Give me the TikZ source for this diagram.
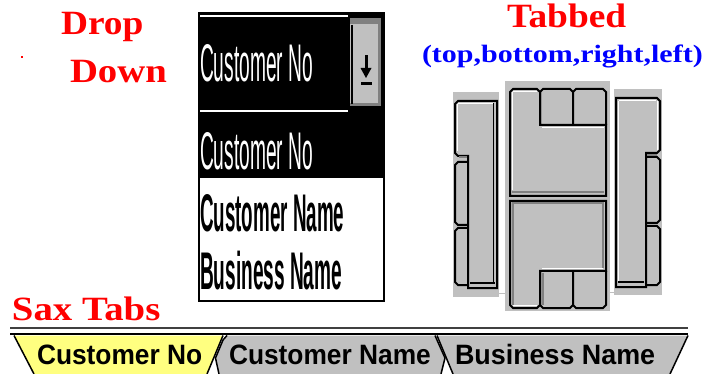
\documentclass[tikz,border=0pt]{standalone}
\usepackage{fontspec}
\setmainfont{Liberation Serif}
\newfontfamily\uisans{Liberation Sans}
\definecolor{winred}{RGB}{255,0,0}
\definecolor{winblue}{RGB}{0,0,255}
\definecolor{wingray}{RGB}{192,192,192}
\definecolor{windark}{RGB}{128,128,128}
\definecolor{tabyellow}{RGB}{255,255,128}
\definecolor{linedark}{RGB}{64,64,64}
\begin{document}
\begin{tikzpicture}[x=1pt,y=-1pt,
  txt/.style={inner sep=0pt, outer sep=0pt, anchor=base west},
  ttl/.style={txt, text=winred, font=\fontsize{34}{34}\selectfont\bfseries},
  subttl/.style={txt, text=winblue, font=\fontsize{25}{25}\selectfont\bfseries},
  combotxt/.style={txt, font=\uisans\fontsize{53}{53}\selectfont},
  combobold/.style={txt, font=\uisans\bfseries\fontsize{53}{53}\selectfont},
  saxtxt/.style={txt, font=\uisans\bfseries\fontsize{28}{28}\selectfont},
  hilite/.style={draw=white, line width=1.5pt},
  shadowln/.style={draw=windark, line width=2pt},
  panelbg/.style={fill=wingray},
  tabfill/.style={fill=wingray, draw=black, line width=2pt, line join=miter},
]
\useasboundingbox (0,0) rectangle (707,374);
\fill[white] (0,0) rectangle (707,374);

% ---------- titles ----------
\node[ttl] (tdrop) at (61,35) {\scalebox{1.1}[1]{Drop}};
\node[ttl] (tdown) at (70,83) {\scalebox{1.14}[1]{Down}};
\fill[winred] (21,56) rectangle (23,58);
\node[ttl] (ttabbed) at (507,28) {\scalebox{1.1}[1]{Tabbed}};
\node[subttl] (tsides) at (422,63) {\scalebox{1.2}[1]{(top,bottom,right,left)}};
\node[ttl] (tsax) at (12,320) {\scalebox{1.14}[1]{Sax Tabs}};

% ---------- drop down ----------
\fill[black] (198,12) rectangle (385,178);
\fill[white] (198,178) rectangle (385,302);
\draw[black, line width=2pt] (199,13) rectangle (384,301);
\draw[hilite] (200,16) -- (348,16);
\draw[hilite] (200,111) -- (348,111);
\fill[wingray] (350,18) rectangle (381,106);
\fill[windark] (350,18) rectangle (381,24);
\fill[windark] (378,18) rectangle (381,106);
\fill[windark] (350,103) rectangle (381,106);
\draw[black, line width=2pt] (351.5,25) -- (351.5,104);
% arrow glyph
\fill[black] (364.5,55) rectangle (367.5,69);
\fill[black] (360.5,68) -- (371.5,68) -- (366,78) -- cycle;
\fill[black] (360.5,82) rectangle (371.5,85);
\node[combotxt, text=white] (cbsel) at (200,82) {\scalebox{0.362}[1]{Customer No}};
\node[combotxt, text=white] (lst1) at (200,170) {\scalebox{0.362}[1]{Customer No}};
\node[combobold, text=black] (lst2) at (200,232) {\scalebox{0.355}[1]{Customer Name}};
\node[combobold, text=black] (lst3) at (200,290) {\scalebox{0.36}[1]{Business Name}};

% ---------- tabbed: left panel ----------
\fill[panelbg] (453,92) rectangle (499,297);
\draw[tabfill] (468,162) -- (458,162) -- (455,165) -- (455,222) -- (458,225) -- (468,225);
\draw[tabfill] (468,228) -- (458,228) -- (455,231) -- (455,282) -- (458,285) -- (468,285);
\draw[tabfill] (455,104) -- (458,101) -- (497,101) -- (497,288) -- (468,288) -- (468,156) -- (458,156) -- (455,153) -- cycle;
\draw[hilite] (458,103.5) -- (494,103.5);
\draw[hilite] (457.5,104) -- (457.5,151);
\draw[shadowln] (459,157.5) -- (467,157.5);
\draw[black, line width=1.5pt] (470,283) -- (495,283);
\draw[black, line width=1.5pt] (493.5,103) -- (493.5,283);
\draw[wingray, line width=1pt] (499,293) -- (505,293);

% ---------- tabbed: centre panel ----------
\fill[panelbg] (505,81) rectangle (610,311);
% top control
\draw[tabfill] (540,125) -- (540,92) -- (543,89) -- (570,89) -- (573,92) -- (573,125);
\draw[tabfill] (573,125) -- (573,92) -- (576,89) -- (603,89) -- (606,92) -- (606,125);
\draw[tabfill] (510,92) -- (513,89) -- (537,89) -- (540,92) -- (540,125) -- (606,125) -- (606,196) -- (510,196) -- cycle;
\draw[hilite] (513,91.5) -- (537,91.5);
\draw[hilite] (512.5,92) -- (512.5,190);
\draw[hilite] (542,127.5) -- (604,127.5);
\draw[shadowln] (512,192.5) -- (604,192.5);
% bottom control
\draw[tabfill] (540,271) -- (540,305) -- (543,308) -- (570,308) -- (573,305) -- (573,271);
\draw[tabfill] (573,271) -- (573,305) -- (576,308) -- (603,308) -- (606,305) -- (606,271);
\draw[tabfill] (510,201) -- (606,201) -- (606,271) -- (540,271) -- (540,305) -- (537,308) -- (513,308) -- (510,305) -- cycle;
\draw[shadowln] (512,203.5) -- (604,203.5);
\draw[shadowln] (602.5,204) -- (602.5,268);
\draw[shadowln] (512.5,204) -- (512.5,305);
\draw[hilite] (542,268.5) -- (603,268.5);
\draw[hilite] (513,305.5) -- (537,305.5);
\draw[shadowln] (542.5,273) -- (542.5,305);
\draw[wingray, line width=1pt] (610,292) -- (614,292);

% ---------- tabbed: right panel ----------
\fill[panelbg] (614,89) rectangle (662,295);
\draw[tabfill] (646,157) -- (657,157) -- (660,160) -- (660,220) -- (657,223) -- (646,223);
\draw[tabfill] (646,226) -- (657,226) -- (660,229) -- (660,282) -- (657,285) -- (646,285);
\draw[tabfill] (616,98) -- (657,98) -- (660,101) -- (660,150) -- (657,153) -- (646,153) -- (646,287) -- (616,287) -- cycle;
\draw[hilite] (619,100.5) -- (656,100.5);
\draw[hilite] (657.5,101) -- (657.5,150);
\draw[hilite] (618.5,101) -- (618.5,281);
\draw[shadowln] (647,155) -- (657,155);
\draw[black, line width=1.5pt] (618,282) -- (644,282);

% ---------- sax tabs ----------
\draw[linedark, line width=2pt] (10,328) -- (688,328);
\draw[black, line width=2.5pt] (10,334) -- (688,334);
\path[fill=tabyellow] (14,335.5) -- (223,335.5) -- (207,374) -- (34,374) -- cycle;
\draw[black, line width=1.5pt] (14,335.5) -- (34,374);
\draw[black, line width=1.5pt] (223,335.5) -- (207,374);
\path[fill=wingray] (219,374) -- (215.5,358) -- (223,340) -- (227,335.5) -- (435,335.5) -- (445,358) -- (441,374) -- cycle;
\path[fill=wingray] (437,335.5) -- (688,335.5) -- (670,374) -- (453,374) -- cycle;
\draw[black, line width=1.5pt] (219,374) -- (215.5,358) -- (223,340) -- (227,335.5);
\draw[black, line width=1.5pt] (435,335.5) -- (445,358) -- (441,374);
\draw[black, line width=1.5pt] (437,335.5) -- (453,374);
\draw[black, line width=1.5pt] (688,335.5) -- (670,374);
\node[saxtxt] (sax1) at (37,364) {\scalebox{0.94}[1]{Customer No}};
\node[saxtxt] (sax2) at (229,364) {\scalebox{0.94}[1]{Customer Name}};
\node[saxtxt] (sax3) at (455,364) {\scalebox{0.96}[1]{Business Name}};
\end{tikzpicture}
\end{document}
